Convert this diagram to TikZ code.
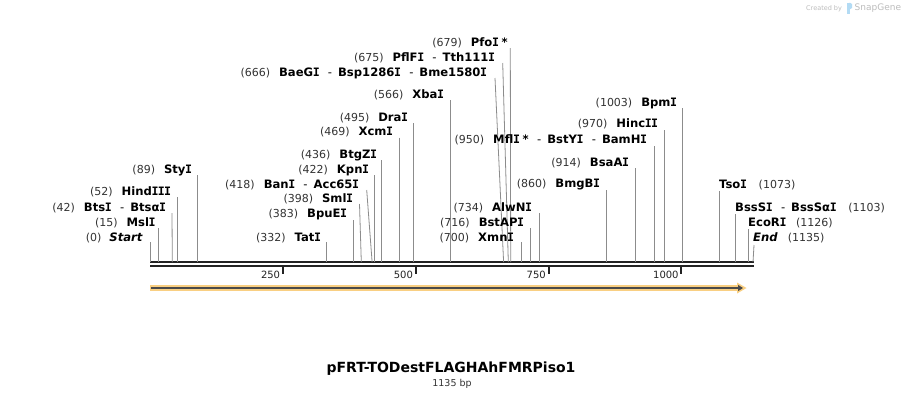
\documentclass[tikz,border=0pt]{standalone}
\usepackage{fontspec}
\setmainfont{DejaVu Sans}
\newfontfamily\serifIfam{DejaVu Sans Mono}
\usetikzlibrary{arrows.meta}
\definecolor{numc}{HTML}{333333}
\definecolor{cutc}{HTML}{8C8C8C}
\definecolor{bbc}{HTML}{222222}
\definecolor{featc}{HTML}{F9CF82}
\definecolor{featline}{HTML}{4A4A4A}
\definecolor{wmc}{HTML}{BDBDBD}
\definecolor{wmblue}{HTML}{B3DBF4}
\newcommand{\nm}[1]{{\mdseries\upshape\color{numc}\fontsize{11}{13}\selectfont #1}}
\newcommand{\sepr}{\hspace{8.5pt}{\mdseries -}\hspace{6pt}}
\newcommand{\sI}{{\kern-0.35pt\serifIfam I\kern-0.35pt}}
\tikzset{
  lbl/.style={inner sep=0pt, font=\fontsize{11.6}{13}\selectfont\bfseries, anchor=base east},
  rlbl/.style={inner sep=0pt, font=\fontsize{11.6}{13}\selectfont\bfseries, anchor=base west},
  cut/.style={draw=cutc, line width=0.8pt},
  bb/.style={draw=bbc, line width=2.4pt},
  tick/.style={draw=bbc, line width=2pt},
  ticklbl/.style={inner sep=0pt, anchor=base east, font=\fontsize{10}{12}\selectfont, text=bbc}
}
\begin{document}
\begin{tikzpicture}[x=1pt,y=-1pt]
\useasboundingbox[fill=white] (0,0) rectangle (904,400);

% backbone
\coordinate (bbL) at (150,262); \coordinate (bbR) at (754,262);
\coordinate (bbL2) at (150,266); \coordinate (bbR2) at (754,266);
\draw[bb] (bbL) -- (bbR);
\draw[bb] (bbL2) -- (bbR2);

% ticks
\foreach \x/\t/\n in {282.8/250/a,415.6/500/b,548.5/750/c,681.3/1000/d}{
  \coordinate (tk\n1) at (\x,266);
  \coordinate (tk\n2) at (\x,274);
  \draw[tick] (tk\n1) -- (tk\n2);
  \node[ticklbl] (tl\n) at (\x-2.5,278) {\t};
}

% feature arrow
\coordinate (fa) at (150,288); \coordinate (fb) at (739,288);
\draw[featc, line width=6pt] (fa) -- (fb);
\fill[featc] (737,282.5) -- (746.5,288) -- (737,293.5) -- cycle;
\coordinate (fa2) at (151,288); \coordinate (fb2) at (743,288);
\draw[featline, line width=1.8pt, -{Triangle[length=5pt,width=6pt]}] (fa2) -- (fb2);

% ---- left / middle labels ----
\node[lbl] (l0) at (143,241) {\nm{(0)}\hspace{8pt}\textit{Start}};
\coordinate (t0) at (150,242); \coordinate (s0) at (150,262); \draw[cut] (t0) -- (s0);

\node[lbl] (l15) at (155.5,226) {\nm{(15)}\hspace{9pt}Msl\sI};
\coordinate (t15) at (158,228); \coordinate (s15) at (158,262); \draw[cut] (t15) -- (s15);

\node[lbl] (l42) at (166,211) {\nm{(42)}\hspace{9pt}Bts\sI\sepr Btsα\sI};
\coordinate (t42) at (172,213); \coordinate (s42) at (172.3,262); \draw[cut] (t42) -- (s42);

\node[lbl] (l52) at (171,195) {\nm{(52)}\hspace{9pt}Hind\sI\sI\sI};
\coordinate (t52) at (177.8,197); \coordinate (s52) at (177.8,262); \draw[cut] (t52) -- (s52);

\node[lbl] (l89) at (192,173) {\nm{(89)}\hspace{9pt}Sty\sI};
\coordinate (t89) at (197.3,175); \coordinate (s89) at (197.3,262); \draw[cut] (t89) -- (s89);

\node[lbl] (l332) at (321,241) {\nm{(332)}\hspace{9pt}Tat\sI};
\coordinate (t332) at (326.6,242); \coordinate (s332) at (326.6,262); \draw[cut] (t332) -- (s332);

\node[lbl] (l383) at (347,217) {\nm{(383)}\hspace{9pt}BpuE\sI};
\coordinate (t383) at (353.3,220); \coordinate (s383) at (353.3,262); \draw[cut] (t383) -- (s383);

\node[lbl] (l398) at (353,202) {\nm{(398)}\hspace{9pt}Sml\sI};
\coordinate (t398) at (359.5,204); \coordinate (s398) at (361.3,262); \draw[cut] (t398) -- (s398);

\node[lbl] (l418) at (359,188) {\nm{(418)}\hspace{9pt}Ban\sI\sepr Acc65\sI};
\coordinate (t418) at (366.7,190); \coordinate (s418) at (372.1,262); \draw[cut] (t418) -- (s418);

\node[lbl] (l422) at (369,173) {\nm{(422)}\hspace{9pt}Kpn\sI};
\coordinate (t422) at (374.3,175); \coordinate (s422) at (374.3,262); \draw[cut] (t422) -- (s422);

\node[lbl] (l436) at (377,158) {\nm{(436)}\hspace{9pt}BtgZ\sI};
\coordinate (t436) at (381.6,160); \coordinate (s436) at (381.6,262); \draw[cut] (t436) -- (s436);

\node[lbl] (l469) at (393,135) {\nm{(469)}\hspace{9pt}Xcm\sI};
\coordinate (t469) at (399.2,137.5); \coordinate (s469) at (399.2,262); \draw[cut] (t469) -- (s469);

\node[lbl] (l495) at (408,121) {\nm{(495)}\hspace{9pt}Dra\sI};
\coordinate (t495) at (413.2,123); \coordinate (s495) at (413.2,262); \draw[cut] (t495) -- (s495);

\node[lbl] (l566) at (444,98) {\nm{(566)}\hspace{9pt}Xba\sI};
\coordinate (t566) at (450.5,100); \coordinate (s566) at (450.5,262); \draw[cut] (t566) -- (s566);

\node[lbl] (l666) at (487,76) {\nm{(666)}\hspace{9pt}BaeG\sI\sepr Bsp1286\sI\sepr Bme1580\sI};
\coordinate (t666) at (495,78); \coordinate (s666) at (503.6,262); \draw[cut] (t666) -- (s666);

\node[lbl] (l675) at (495,61) {\nm{(675)}\hspace{9pt}PflF\sI\sepr Tth111\sI};
\coordinate (t675) at (502.7,63); \coordinate (s675) at (508.3,262); \draw[cut] (t675) -- (s675);

\node[lbl] (l679) at (508,46) {\nm{(679)}\hspace{9pt}Pfo\sI\hspace{3pt}*};
\coordinate (t679) at (510.3,48); \coordinate (s679) at (510.7,262); \draw[cut] (t679) -- (s679);

\node[lbl] (l700) at (514,241) {\nm{(700)}\hspace{9pt}Xmn\sI};
\coordinate (t700) at (521.5,242); \coordinate (s700) at (521.5,262); \draw[cut] (t700) -- (s700);

\node[lbl] (l716) at (524,226) {\nm{(716)}\hspace{9pt}BstAP\sI};
\coordinate (t716) at (530.2,228); \coordinate (s716) at (530.2,262); \draw[cut] (t716) -- (s716);

\node[lbl] (l734) at (532,211) {\nm{(734)}\hspace{9pt}AlwN\sI};
\coordinate (t734) at (539.6,213); \coordinate (s734) at (539.6,262); \draw[cut] (t734) -- (s734);

\node[lbl] (l860) at (600,187) {\nm{(860)}\hspace{9pt}BmgB\sI};
\coordinate (t860) at (606.8,190); \coordinate (s860) at (606.8,262); \draw[cut] (t860) -- (s860);

\node[lbl] (l914) at (629,166) {\nm{(914)}\hspace{9pt}BsaA\sI};
\coordinate (t914) at (635.6,168); \coordinate (s914) at (635.6,262); \draw[cut] (t914) -- (s914);

\node[lbl] (l950) at (647,143) {\nm{(950)}\hspace{9pt}Mfl\sI\hspace{3pt}*\sepr BstY\sI\sepr BamH\sI};
\coordinate (t950) at (654.5,146); \coordinate (s950) at (654.5,262); \draw[cut] (t950) -- (s950);

\node[lbl] (l970) at (658,127) {\nm{(970)}\hspace{9pt}Hinc\sI\sI};
\coordinate (t970) at (664.8,130); \coordinate (s970) at (664.8,262); \draw[cut] (t970) -- (s970);

\node[lbl] (l1003) at (677,106) {\nm{(1003)}\hspace{9pt}Bpm\sI};
\coordinate (t1003) at (682.6,108); \coordinate (s1003) at (682.6,262); \draw[cut] (t1003) -- (s1003);

% ---- right labels ----
\node[rlbl] (l1073) at (719,188) {Tso\sI\hspace{12pt}\nm{(1073)}};
\coordinate (t1073) at (719.8,191); \coordinate (s1073) at (719.8,262); \draw[cut] (t1073) -- (s1073);

\node[rlbl] (l1103) at (735,211) {BssS\sI\sepr BssSα\sI\hspace{12pt}\nm{(1103)}};
\coordinate (t1103) at (735.8,214); \coordinate (s1103) at (735.8,262); \draw[cut] (t1103) -- (s1103);

\node[rlbl] (l1126) at (748,226) {EcoR\sI\hspace{10pt}\nm{(1126)}};
\coordinate (t1126) at (748,229); \coordinate (s1126) at (748,262); \draw[cut] (t1126) -- (s1126);

\node[rlbl] (l1135) at (753,241) {\textit{End}\hspace{10pt}\nm{(1135)}};
\coordinate (t1135) at (754,245); \coordinate (s1135) at (753,262); \draw[cut] (t1135) -- (s1135);

% title
\node[inner sep=0pt, font=\fontsize{14}{16}\selectfont\bfseries, text=black] (title) at (451,369) {pFRT-TODestFLAGHAhFMRPiso1};
\node[inner sep=0pt, font=\fontsize{9.5}{11}\selectfont, text=numc] (size) at (452,383.5) {1135 bp};

% watermark
\node[inner sep=0pt, anchor=base west, font=\fontsize{6.5}{8}\selectfont, text=wmc] (wm1) at (806,10) {Created by};
\fill[wmblue] (846.5,2.5) rectangle (849.5,13.5);
\fill[wmblue] (849.5,2.5) -- (852,4) -- (852,8) -- (849.5,9.5) -- cycle;
\node[inner sep=0pt, anchor=base west, font=\fontsize{9}{10}\selectfont, text=wmc] (wm2) at (854.5,10.5) {SnapGene};
\end{tikzpicture}
\end{document}
